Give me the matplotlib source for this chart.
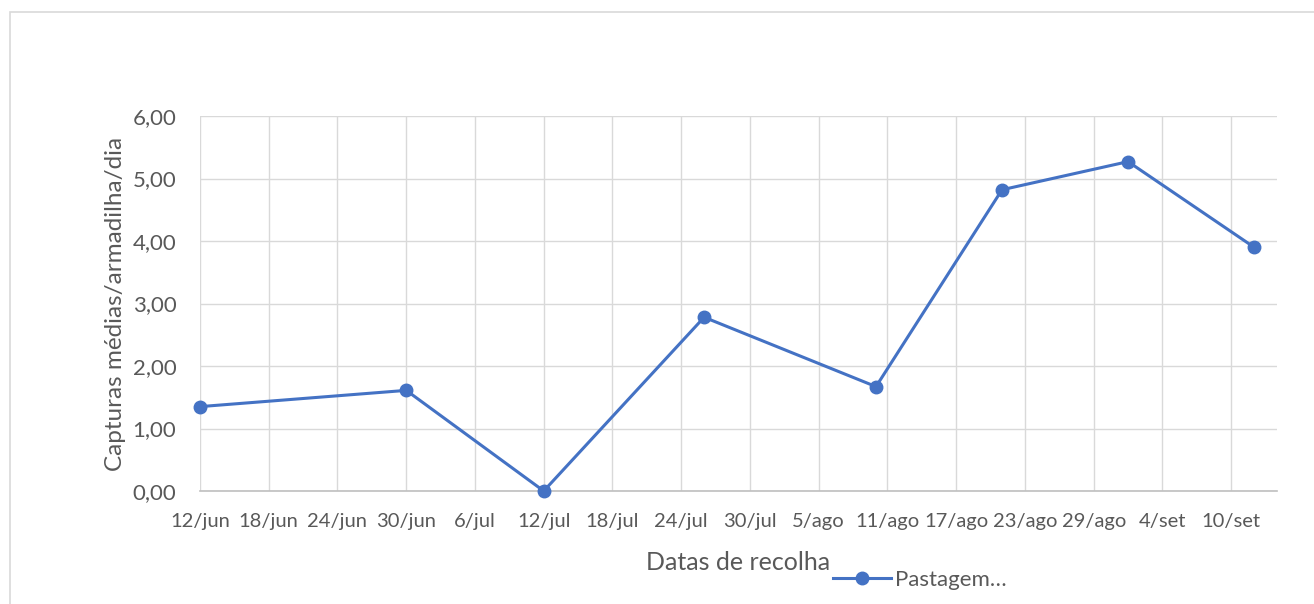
import datetime as dt

import matplotlib
matplotlib.use("Agg")
import matplotlib.pyplot as plt
from matplotlib.patches import Rectangle

# data
dates = ["2023-06-12", "2023-06-30", "2023-07-12", "2023-07-26",
         "2023-08-10", "2023-08-21", "2023-09-01", "2023-09-12"]
capturas = [1.35, 1.61, 0.00, 2.78, 1.67, 4.82, 5.27, 3.90]
meses = ["jan", "fev", "mar", "abr", "mai", "jun",
         "jul", "ago", "set", "out", "nov", "dez"]
serie = "Pastagem…"

x = [dt.datetime.strptime(d, "%Y-%m-%d") for d in dates]
start = dt.datetime(2023, 6, 12)
end = dt.datetime(2023, 9, 14)

plt.rcParams["font.family"] = ["Lato", "DejaVu Sans"]
grey = "#595959"

fig = plt.figure(figsize=(13.14, 6.04), dpi=100)
fig.patches.append(Rectangle((10 / 1314, -0.1), 1.2, 1 - 12 / 604 + 0.1,
                             transform=fig.transFigure, fill=False,
                             edgecolor="#D9D9D9", linewidth=1.2))

ax = fig.add_axes([200 / 1314, 1 - 491 / 604, 1077 / 1314, 375 / 604])
ax.plot(x, capturas, color="#4472C4", linewidth=2.2, marker="o",
        markersize=9, label=serie, zorder=3, clip_on=False)

ax.set_xlim(start, end)
ax.set_ylim(0, 6)
ticks = [start + dt.timedelta(days=6 * i) for i in range(16)]
ax.set_xticks(ticks)
ax.set_xticklabels([f"{t.day}/{meses[t.month - 1]}" for t in ticks])
ax.set_yticks(range(7))
ax.set_yticklabels([f"{v:.2f}".replace(".", ",") for v in range(7)])

ax.grid(True, color="#D9D9D9", linewidth=1.0)
ax.set_axisbelow(True)
for s in ["top", "right", "left"]:
    ax.spines[s].set_visible(False)
ax.spines["bottom"].set_color("#BFBFBF")
ax.spines["bottom"].set_linewidth(1.2)
ax.tick_params(axis="both", length=0, colors=grey)
ax.tick_params(axis="x", labelsize=14.5, pad=16)
ax.tick_params(axis="y", labelsize=16, pad=17)

ax.set_ylabel("Capturas médias/armadilha/dia", fontsize=17.5, color=grey,
              labelpad=5)
ax.set_xlabel("Datas de recolha", fontsize=18, color=grey, labelpad=15)

ax.legend(loc="center", bbox_to_anchor=(920 / 1314, 1 - 580 / 604),
          bbox_transform=fig.transFigure, frameon=False, fontsize=16,
          labelcolor=grey, handlelength=2.6, handletextpad=0.2,
          borderpad=0)

fig.savefig("out.png", dpi=100)
